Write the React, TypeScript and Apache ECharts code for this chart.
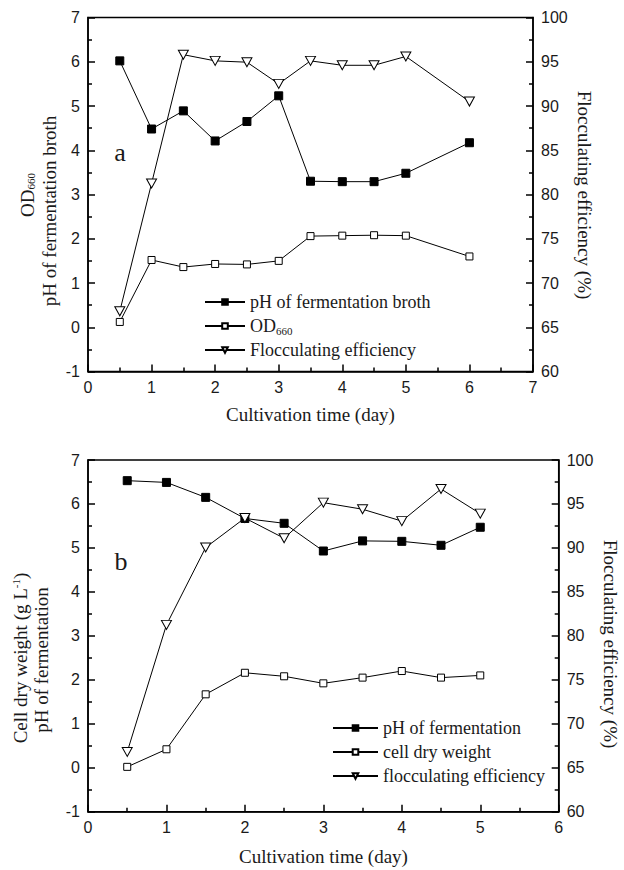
import React, { useEffect, useRef } from 'react';
import * as echarts from 'echarts';

// ---- Data: panel a ----
const timeA = [0.5, 1, 1.5, 2, 2.5, 3, 3.5, 4, 4.5, 5, 6];
const phA = [6.02, 4.48, 4.89, 4.21, 4.65, 5.23, 3.3, 3.29, 3.29, 3.48, 4.17];
const odA = [0.12, 1.52, 1.36, 1.43, 1.42, 1.5, 2.06, 2.07, 2.08, 2.07, 1.6];
const flocA = [66.8, 81.25, 95.8, 95.1, 94.95, 92.5, 95.1, 94.6, 94.6, 95.6, 90.5];

// ---- Data: panel b ----
const timeB = [0.5, 1, 1.5, 2, 2.5, 3, 3.5, 4, 4.5, 5];
const phB = [6.53, 6.49, 6.15, 5.67, 5.56, 4.93, 5.16, 5.15, 5.06, 5.47];
const cdwB = [0.02, 0.42, 1.67, 2.16, 2.08, 1.92, 2.05, 2.2, 2.05, 2.1];
const flocB = [66.8, 81.25, 90.05, 93.4, 91.1, 95.15, 94.4, 93.05, 96.7, 93.9];

// axis ranges
const xMaxA = 7;
const xMaxB = 6;
const leftRange = [-1, 7];
const rightRange = [60, 100];

const serif = 'Liberation Serif, Times New Roman, serif';
const sans = 'Liberation Sans, Arial, sans-serif';
const ink = '#1a1a1a';

const pairs = (xs: number[], ys: number[]) => xs.map((x, i) => [x, ys[i]]);

const axisCommon = () => ({
  axisLine: { show: true, onZero: false, lineStyle: { color: '#000', width: 1.5 } },
  axisTick: { show: true, inside: true, length: 7, lineStyle: { color: '#000', width: 1.5 } },
  minorTick: { show: true, splitNumber: 2, length: 4, lineStyle: { color: '#000', width: 1.5 } },
  splitLine: { show: false },
  minorSplitLine: { show: false },
  axisLabel: { color: ink, fontFamily: sans, fontSize: 16, margin: 8 },
});

const filledSq = (name: string, data: number[][], xi: number, yi: number) => ({
  name,
  type: 'line',
  xAxisIndex: xi,
  yAxisIndex: yi,
  data,
  symbol: 'rect',
  symbolSize: 8,
  lineStyle: { color: '#000', width: 1 },
  itemStyle: { color: '#000', borderColor: '#000', borderWidth: 1 },
  z: 3,
});
const openSq = (name: string, data: number[][], xi: number, yi: number) => ({
  name,
  type: 'line',
  xAxisIndex: xi,
  yAxisIndex: yi,
  data,
  symbol: 'rect',
  symbolSize: 7,
  lineStyle: { color: '#000', width: 1 },
  itemStyle: { color: '#fff', borderColor: '#000', borderWidth: 1 },
  z: 3,
});
const openTri = (name: string, data: number[][], xi: number, yi: number) => ({
  name,
  type: 'line',
  xAxisIndex: xi,
  yAxisIndex: yi,
  data,
  symbol: 'triangle',
  symbolRotate: 180,
  symbolSize: [10, 9],
  lineStyle: { color: '#000', width: 1 },
  itemStyle: { color: '#fff', borderColor: '#000', borderWidth: 1 },
  z: 4,
});

const titleRich = {
  m: { fontFamily: serif, fontSize: 19, fill: ink },
  sub: { fontFamily: serif, fontSize: 11, fill: ink, verticalAlign: 'bottom' },
  sup: { fontFamily: serif, fontSize: 11, fill: ink, verticalAlign: 'top' },
};

const vText = (x: number, y: number, text: string, rot: number, rich = false, size = 19) => ({
  type: 'text',
  x,
  y,
  rotation: rot,
  style: rich
    ? { text, rich: titleRich, fontFamily: serif, fontSize: size, align: 'center', verticalAlign: 'middle', fill: ink }
    : { text, fontFamily: serif, fontSize: size, fill: ink, align: 'center', verticalAlign: 'middle' },
});

const legendText = {
  fontFamily: serif,
  fontSize: 18,
  color: ink,
  lineHeight: 20,
  rich: {
    m: { fontFamily: serif, fontSize: 18, color: ink, lineHeight: 20 },
    sub: { fontFamily: serif, fontSize: 11, color: ink, verticalAlign: 'bottom', lineHeight: 20 },
  },
};

export default function App() {
  const ref = useRef<HTMLDivElement>(null);
  useEffect(() => {
    if (!ref.current) return;
    const chart = echarts.init(ref.current, undefined, { renderer: 'svg' });
    const option: any = {
      animation: false,
      backgroundColor: '#fff',
      grid: [
        { left: 88, top: 17.5, width: 445, height: 354, show: true, borderColor: '#000', borderWidth: 1.5, containLabel: false },
        { left: 88, top: 460, width: 470.7, height: 351.7, show: true, borderColor: '#000', borderWidth: 1.5, containLabel: false },
      ],
      xAxis: [
        { ...axisCommon(), type: 'value', gridIndex: 0, min: 0, max: xMaxA, interval: 1 },
        { ...axisCommon(), type: 'value', gridIndex: 1, min: 0, max: xMaxB, interval: 1 },
      ],
      yAxis: [
        { ...axisCommon(), type: 'value', gridIndex: 0, position: 'left', min: leftRange[0], max: leftRange[1], interval: 1 },
        { ...axisCommon(), type: 'value', gridIndex: 0, position: 'right', min: rightRange[0], max: rightRange[1], interval: 5 },
        { ...axisCommon(), type: 'value', gridIndex: 1, position: 'left', min: leftRange[0], max: leftRange[1], interval: 1 },
        { ...axisCommon(), type: 'value', gridIndex: 1, position: 'right', min: rightRange[0], max: rightRange[1], interval: 5 },
      ],
      legend: [
        {
          orient: 'vertical',
          left: 199,
          top: 287,
          itemWidth: 40,
          itemHeight: 7,
          itemGap: 4,
          selectedMode: false,
          data: ['pH of fermentation broth', 'OD660', 'Flocculating efficiency'],
          textStyle: legendText,
          formatter: (n: string) => (n === 'OD660' ? '{m|OD}{sub|660}' : n),
        },
        {
          orient: 'vertical',
          left: 327,
          top: 713,
          itemWidth: 45,
          itemHeight: 7,
          itemGap: 4,
          selectedMode: false,
          data: ['pH of fermentation', 'cell dry weight', 'flocculating efficiency'],
          textStyle: legendText,
        },
      ],
      series: [
        filledSq('pH of fermentation broth', pairs(timeA, phA), 0, 0),
        openSq('OD660', pairs(timeA, odA), 0, 0),
        openTri('Flocculating efficiency', pairs(timeA, flocA), 0, 1),
        filledSq('pH of fermentation', pairs(timeB, phB), 1, 2),
        openSq('cell dry weight', pairs(timeB, cdwB), 1, 2),
        openTri('flocculating efficiency', pairs(timeB, flocB), 1, 3),
      ],
      graphic: [
        vText(27, 195, '{m|OD}{sub|660}', Math.PI / 2, true),
        vText(49, 211, 'pH of fermentation broth', Math.PI / 2),
        vText(584, 195, 'Flocculating efficiency (%)', -Math.PI / 2),
        vText(310.5, 414, 'Cultivation time (day)', 0),
        { type: 'text', x: 120, y: 152, style: { text: 'a', fontFamily: serif, fontSize: 26, fill: ink, align: 'center', verticalAlign: 'middle' } },
        vText(20, 658, '{m|Cell dry weight (g L}{sup|-1}{m|)}', Math.PI / 2, true),
        vText(41, 660, 'pH of fermentation', Math.PI / 2),
        vText(610, 644, 'Flocculating efficiency (%)', -Math.PI / 2),
        vText(323.5, 856, 'Cultivation time (day)', 0),
        { type: 'text', x: 121, y: 561, style: { text: 'b', fontFamily: serif, fontSize: 26, fill: ink, align: 'center', verticalAlign: 'middle' } },
      ],
    };
    chart.setOption(option);
    return () => chart.dispose();
  }, []);
  return (
    <div
      ref={ref}
      style={{ position: 'absolute', left: 0, top: 0, width: 624, height: 870, background: '#fff' }}
    />
  );
}
